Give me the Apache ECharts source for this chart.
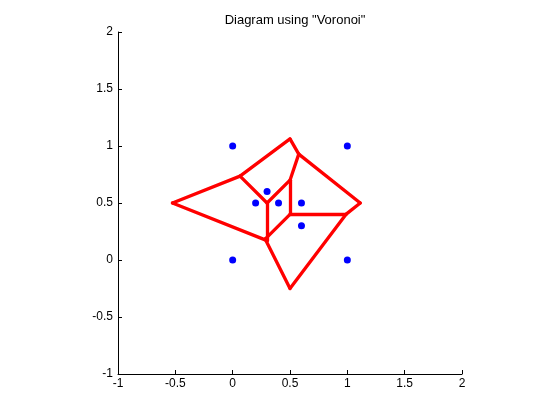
<!DOCTYPE html>
<html>
<head>
<meta charset="utf-8">
<script src="https://cdn.jsdelivr.net/npm/echarts@6/dist/echarts.min.js"></script>
<style>html,body{margin:0;padding:0;background:#fff;}#c{width:560px;height:420px;}</style>
</head>
<body>
<div id="c"></div>
<script>
// Generator points
var pointsX = [0, 1, 0, 1, 0.3, 0.2, 0.4, 0.6, 0.6];
var pointsY = [0, 0, 1, 1, 0.6, 0.5, 0.5, 0.5, 0.3];
// Voronoi vertices (finite)
var vertX = [-0.525, 0.0643, 0.5, 0.5763, 1.1125, 0.9875, 0.5, 0.5, 0.3, 0.3, 0.2833, 0.5];
var vertY = [0.5, 0.7357, 1.0625, 0.9289, 0.5, 0.4, 0.4, 0.7, 0.5, 0.17, 0.1833, -0.25];
// Finite edges as pairs of vertex indices
var edgeFrom = [0, 0, 1, 1, 2, 3, 3, 4, 5, 5, 6, 7, 8, 9, 10, 10];
var edgeTo   = [1, 9, 2, 8, 3, 7, 4, 5, 6, 11, 7, 8, 9, 10, 6, 11];
var xTicks = [-1, -0.5, 0, 0.5, 1, 1.5, 2];
var yTicks = [-1, -0.5, 0, 0.5, 1, 1.5, 2];
var titleText = 'Diagram using "Voronoi"';

var pts = pointsX.map(function (x, i) { return [x, pointsY[i]]; });
var edges = edgeFrom.map(function (a, i) {
  var b = edgeTo[i];
  return { coords: [[vertX[a], vertY[a]], [vertX[b], vertY[b]]] };
});

var font = 'Liberation Sans, Arial, Helvetica, sans-serif';
var chart = echarts.init(document.getElementById('c'), null, { renderer: 'canvas' });
chart.setOption({
  animation: false,
  backgroundColor: '#fff',
  title: {
    text: titleText, left: 290, top: 9, textAlign: 'center',
    textStyle: { fontFamily: font, fontSize: 13, fontWeight: 'normal', color: '#000' }
  },
  grid: { left: 118, right: 98, top: 32, bottom: 46, containLabel: false },
  xAxis: {
    type: 'value', min: -1, max: 2, interval: 0.5,
    axisLine: { show: true, onZero: false, lineStyle: { color: '#000', width: 1 } },
    axisTick: { show: true, inside: true, length: 4, lineStyle: { color: '#000' } },
    splitLine: { show: false },
    axisLabel: { color: '#000', fontFamily: font, fontSize: 12, margin: 4,
      formatter: function (v) { return xTicks.indexOf(v) >= 0 ? String(v) : ''; } }
  },
  yAxis: {
    type: 'value', min: -1, max: 2, interval: 0.5,
    axisLine: { show: true, onZero: false, lineStyle: { color: '#000', width: 1 } },
    axisTick: { show: true, inside: true, length: 4, lineStyle: { color: '#000' } },
    splitLine: { show: false },
    axisLabel: { color: '#000', fontFamily: font, fontSize: 12, margin: 5,
      formatter: function (v) { return yTicks.indexOf(v) >= 0 ? String(v) : ''; } }
  },
  series: [
    {
      type: 'lines', coordinateSystem: 'cartesian2d', data: edges,
      lineStyle: { color: '#ff0000', width: 3.3, opacity: 1, cap: 'round', join: 'round' },
      silent: true, z: 2
    },
    {
      type: 'scatter', data: pts, symbol: 'circle', symbolSize: 7,
      itemStyle: { color: '#0000ff', opacity: 1 }, z: 3, silent: true
    }
  ]
});
</script>
</body>
</html>
